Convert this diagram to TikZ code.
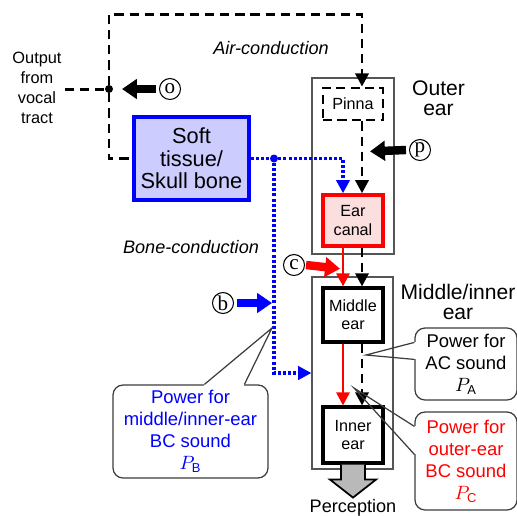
\documentclass[tikz,border=0pt]{standalone}
\usepackage{fontspec}
\setmainfont{Liberation Sans}
\newfontfamily\circfont{Liberation Serif}
\usetikzlibrary{arrows.meta,calc}
\definecolor{softfill}{RGB}{204,204,255}
\definecolor{canalfill}{RGB}{251,222,222}
\definecolor{framegray}{RGB}{85,85,85}
\definecolor{arrowgray}{RGB}{185,185,185}
\definecolor{calloutline}{RGB}{60,60,60}
\begin{document}
\begin{tikzpicture}[x=0.02cm,y=-0.02cm,
  acline/.style={line width=1.7pt, dash pattern=on 5.2pt off 3.4pt},
  bcline/.style={blue, line width=1.8pt, dash pattern=on 1.7pt off 1.2pt},
  redline/.style={red, line width=1.6pt},
  head/.style={-{Triangle[length=7.5pt,width=7.5pt]}},
  bigarrow/.style={line width=4.8pt, -{Triangle[length=8.5pt,width=11pt]}},
  container/.style={draw=framegray, line width=0.7pt, inner sep=0},
  organ/.style={draw, line width=1.8pt, fill=white, align=center, inner sep=0,
    minimum width=1.2cm, font=\fontsize{9.2}{10.4}\selectfont},
  circ/.style={circle, draw, line width=0.6pt, minimum size=0.42cm, inner sep=0,
    font=\circfont\fontsize{12}{12}\selectfont},
  callout/.style={draw=calloutline, line width=0.7pt, rounded corners=0.2cm, fill=white,
    align=center, inner sep=0, font=\fontsize{10.5}{12.5}\selectfont},
  wedge/.style={draw=calloutline, line width=0.7pt},
  txt/.style={align=center, inner sep=0},
  dotnode/.style={circle, fill, inner sep=0, minimum size=0.16cm}]
\useasboundingbox (0,0) rectangle (517,515);

% containers
\node[container, minimum width=1.64cm, minimum height=3.52cm] (outerbox) at (353,166) {};
\node[container, minimum width=1.62cm, minimum height=3.84cm] (midbox) at (352.5,373) {};

% main blocks
\node[draw=blue, fill=softfill, line width=1.9pt, minimum width=2.3cm, minimum height=1.66cm,
  align=center, inner sep=0, font=\fontsize{12.4}{12.8}\selectfont] (soft) at (191.5,158.5) {Soft\\tissue/\\Skull bone};
\node[organ, dash pattern=on 5.2pt off 3pt, line width=1.6pt, minimum height=0.64cm] (pinna) at (353,104) {Pinna};
\node[organ, draw=red, fill=canalfill, line width=2pt, minimum height=1.02cm] (canal) at (353,220.5) {Ear\\canal};
\node[organ, minimum height=1.08cm] (middle) at (353,315) {Middle\\ear};
\node[organ, minimum height=1.12cm] (inner) at (353,435) {Inner\\ear};

% labels
\node[txt, font=\fontsize{9.3}{11.3}\selectfont] (vocal) at (37,88) {Output\\from\\vocal\\tract};
\node[txt, font=\itshape\fontsize{10.3}{12}\selectfont] (airlab) at (271,48) {Air-conduction};
\node[txt, font=\itshape\fontsize{10.3}{12}\selectfont] (bonelab) at (191,247) {Bone-conduction};
\node[txt, font=\fontsize{12}{11.3}\selectfont] (outerlab) at (438.5,98) {Outer\\ear};
\node[txt, font=\fontsize{12}{11.3}\selectfont] (midlab) at (458,302) {Middle/inner\\ear};
\node[txt, font=\fontsize{10.3}{12}\selectfont] (perc) at (353,508) {Perception};

% junction dots
\node[dotnode] (dot) at (109,89) {};
\node[dotnode, fill=blue] (bdot) at (274,158.5) {};

% circled letters
\node[circ] (co) at (170,89) {o};
\node[circ] (cp) at (420,150) {p};
\node[circ] (cb) at (223,303) {b};
\node[circ] (cc) at (294,265) {c};

% air-conduction path
\draw[acline] ($(vocal.east |- dot)+(3,0)$) -- (dot);
\draw[acline, head] (dot) |- ($(pinna.north)+(9,-72)$) -- ($(pinna.north)+(9,0)$);
\draw[acline] (dot) |- (soft.west);
\draw[acline, head] ($(pinna.south)+(9,0)$) -- ($(canal.north)+(9,0)$);
\draw[acline, head] ($(canal.south)+(9,0)$) -- ($(middle.north)+(9,0)$);
\draw[acline, head] ($(middle.south)+(9,0)$) -- ($(inner.north)+(9,0)$);

% outer-ear BC path (red)
\draw[redline, head] ($(canal.south)+(-10,0)$) -- ($(middle.north)+(-10,0)$);
\draw[redline, head] ($(middle.south)+(-10,0)$) -- ($(inner.north)+(-10,0)$);

% bone-conduction path (blue)
\draw[bcline] (soft.east) -- (bdot);
\draw[bcline, head] (bdot) -| ($(canal.north)+(-10,0)$);
\draw[bcline, head] (bdot) |- (midbox.west);

% big input arrows
\draw[bigarrow] ($(co.west)+(-3,0)$) -- ($(dot)+(13,0)$);
\draw[bigarrow] ($(cp.west)+(-3,0)$) -- ($(pinna.south)+(17,30)$);
\draw[bigarrow, red] ($(cc.east)+(1,0)$) -- ($(canal.south)+(-13,21)$);
\draw[bigarrow, blue] ($(cb.east)+(3,0)$) -- ($(bdot |- cb)+(-2,0)$);

% perception arrow
\filldraw[fill=arrowgray, line width=1pt] ($(inner.south)+(-12,0)$) -- ++(0,15) -- ++(-11,0)
  -- ($(inner.south)+(0,33)$) -- ($(inner.south)+(23,15)$) -- ++(-11,0) -- ($(inner.south)+(12,0)$);

% callouts
\node[callout, minimum width=2.04cm, minimum height=1.44cm] (pa) at (466,364) {Power for\\AC sound\\$P_{\mathrm{A}}$};
\node[callout, text=red, minimum width=2.04cm, minimum height=1.96cm] (pc) at (466,461) {Power for\\outer-ear\\BC sound\\$P_{\mathrm{C}}$};
\node[callout, text=blue, minimum width=3.1cm, minimum height=1.86cm] (pb) at (190.5,431.5) {Power for\\middle/inner-ear\\BC sound\\$P_{\mathrm{B}}$};

\coordinate (patip) at (366,355);
\coordinate (pctip) at (354,388);
\coordinate (pbtip) at (272,328);
\draw[white, line width=1.4pt] ($(pa.north west)+(0,15)$) -- ($(pa.north west)+(0,32)$);
\draw[wedge] ($(pa.north west)+(0,15)$) -- (patip) -- ($(pa.north west)+(0,32)$);
\draw[white, line width=1.4pt] ($(pc.north west)+(0,15)$) -- ($(pc.north west)+(0,43)$);
\draw[wedge] ($(pc.north west)+(0,15)$) -- (pctip) -- ($(pc.north west)+(0,43)$);
\draw[white, line width=1.4pt] ($(pb.north west)+(92,0)$) -- ($(pb.north west)+(132,0)$);
\draw[wedge] ($(pb.north west)+(92,0)$) -- (pbtip) -- ($(pb.north west)+(132,0)$);
\end{tikzpicture}
\end{document}
